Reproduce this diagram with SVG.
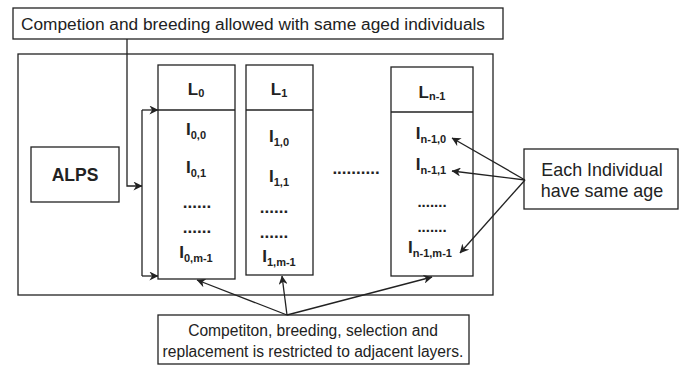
<svg xmlns="http://www.w3.org/2000/svg" width="688" height="366" viewBox="0 0 688 366">
<style>
.box{fill:#fff;stroke:#222;stroke-width:1.3}
.ln{fill:none;stroke:#222;stroke-width:1.3}
.t{font-family:"Liberation Sans",Arial,sans-serif;fill:#222}
.b{font-family:"Liberation Sans",Arial,sans-serif;font-size:17px;font-weight:bold;fill:#222}
.s{font-size:11px}
</style>
<defs>
<marker id="ah" viewBox="0 0 10 10" refX="9.5" refY="5" markerWidth="9" markerHeight="9" markerUnits="userSpaceOnUse" orient="auto">
<path d="M0,0 L10,5 L0,10 L3,5 Z" fill="#222"/>
</marker>
</defs>
<rect width="688" height="366" fill="#fff"/>
<g id="outer"><rect class="box" x="18" y="54" width="475" height="241"/></g>
<g id="top-note"><rect class="box" x="13" y="8" width="490" height="31"/>
<text class="t" x="253" y="30" text-anchor="middle" style="font-size:17.3px">Competion and breeding allowed with same aged individuals</text></g>
<g id="alps"><rect class="box" x="31" y="147" width="88" height="55"/>
<text class="b" x="75" y="181" text-anchor="middle" style="font-size:17.5px">ALPS</text></g>
<g id="L0"><rect class="box" x="158" y="65" width="77" height="214"/>
<line class="ln" x1="158" y1="110" x2="235" y2="110"/>
<text class="b" x="196" y="95" text-anchor="middle">L<tspan class="s" dy="2">0</tspan></text>
<text class="b" x="196" y="135" text-anchor="middle">I<tspan class="s" dy="4">0,0</tspan></text>
<text class="b" x="196" y="173" text-anchor="middle">I<tspan class="s" dy="4">0,1</tspan></text>
<text class="b" x="197" y="208" text-anchor="middle">......</text>
<text class="b" x="197" y="233" text-anchor="middle">......</text>
<text class="b" x="196" y="258" text-anchor="middle">I<tspan class="s" dy="4">0,m-1</tspan></text></g>
<g id="L1"><rect class="box" x="246" y="65" width="67" height="210"/>
<line class="ln" x1="246" y1="110" x2="313" y2="110"/>
<text class="b" x="279" y="95" text-anchor="middle">L<tspan class="s" dy="2">1</tspan></text>
<text class="b" x="279" y="142" text-anchor="middle">I<tspan class="s" dy="4">1,0</tspan></text>
<text class="b" x="279" y="182" text-anchor="middle">I<tspan class="s" dy="4">1,1</tspan></text>
<text class="b" x="274" y="213" text-anchor="middle">......</text>
<text class="b" x="274" y="238" text-anchor="middle">......</text>
<text class="b" x="279" y="262" text-anchor="middle">I<tspan class="s" dy="4">1,m-1</tspan></text></g>
<g id="mid-dots"><text class="b" x="356" y="174" text-anchor="middle">..........</text></g>
<g id="Ln1"><rect class="box" x="391" y="67" width="82" height="209"/>
<line class="ln" x1="391" y1="112" x2="473" y2="112"/>
<text class="b" x="432" y="98" text-anchor="middle">L<tspan class="s" dy="2">n-1</tspan></text>
<text class="b" x="431" y="139" text-anchor="middle">I<tspan class="s" dy="4">n-1,0</tspan></text>
<text class="b" x="431" y="170" text-anchor="middle">I<tspan class="s" dy="4">n-1,1</tspan></text>
<text class="b" x="432" y="207" text-anchor="middle" style="font-size:15px">.......</text>
<text class="b" x="432" y="232" text-anchor="middle" style="font-size:15px">.......</text>
<text class="b" x="430" y="253" text-anchor="middle">I<tspan class="s" dy="4">n-1,m-1</tspan></text></g>
<g id="each-note"><rect class="box" x="524" y="149" width="154" height="60"/>
<text class="t" x="602" y="176" text-anchor="middle" style="font-size:17.9px">Each Individual</text>
<text class="t" x="602" y="197" text-anchor="middle" style="font-size:17.9px">have same age</text></g>
<g id="bottom-note"><rect class="box" x="158" y="315" width="311" height="49"/>
<text class="t" x="313" y="336" text-anchor="middle" style="font-size:15.6px">Competiton, breeding, selection and</text>
<text class="t" x="313" y="357" text-anchor="middle" style="font-size:15.6px">replacement is restricted to adjacent layers.</text></g>
<g id="connectors">
<polyline class="ln" points="127,39 127,186 142,186" marker-end="url(#ah)"/>
<polyline class="ln" points="142,110 142,276"/>
<line class="ln" x1="142" y1="110" x2="158" y2="110" marker-end="url(#ah)"/>
<line class="ln" x1="142" y1="276" x2="158" y2="276" marker-end="url(#ah)"/>
<line class="ln" x1="525" y1="180" x2="452" y2="138" marker-end="url(#ah)"/>
<line class="ln" x1="525" y1="180" x2="452" y2="171" marker-end="url(#ah)"/>
<line class="ln" x1="525" y1="180" x2="460" y2="253" marker-end="url(#ah)"/>
<line class="ln" x1="287" y1="315" x2="197" y2="280" marker-end="url(#ah)"/>
<line class="ln" x1="287" y1="315" x2="282" y2="276" marker-end="url(#ah)"/>
<line class="ln" x1="287" y1="315" x2="432" y2="277" marker-end="url(#ah)"/>
</g>
</svg>
